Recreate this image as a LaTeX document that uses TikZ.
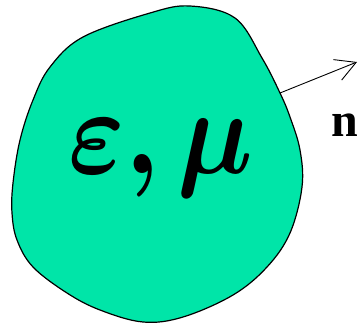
\documentclass[tikz,border=0pt]{standalone}
\usepackage{amsmath,bm}
\usepackage{fontspec}
\newfontfamily\labelfont{Liberation Serif}
\usetikzlibrary{arrows.meta,calc,positioning}

\definecolor{blobfill}{RGB}{0,229,168}

\begin{document}
\begin{tikzpicture}[x=1pt,y=-1pt,>={Straight Barb[length=20pt,width=22pt]}]

% Define parameters
\def\outline{1.2pt}
\def\arrowline{0.9pt}

\useasboundingbox (0,0) rectangle (358,327);

% ===== MATERIAL REGION =====
\draw[line width=\outline, fill=blobfill] plot[smooth cycle, tension=0.6] coordinates {
  (190,6) (150,13) (83,37) (50,67) (33,100) (20,140) (13,183) (12,213)
  (17,240) (33,267) (67,293) (100,310) (143,322) (183,317) (233,295)
  (267,267) (290,233) (302,187) (300,150) (290,117) (280,93) (262,58)
  (235,18)};

% Material constants
\node[xscale=4.3,yscale=4.9] (eps) at (161,158) {\Huge$\boldsymbol{\varepsilon,\mu}$};

% ===== NORMAL VECTOR =====
\coordinate (nfoot) at (280,93);
\coordinate (ntip) at (357,62);
\draw[->,line width=\arrowline] (nfoot) -- (ntip);

\node (nlabel) at (345,125) {\fontsize{48}{50}\selectfont\labelfont\bfseries n};

\end{tikzpicture}
\end{document}
